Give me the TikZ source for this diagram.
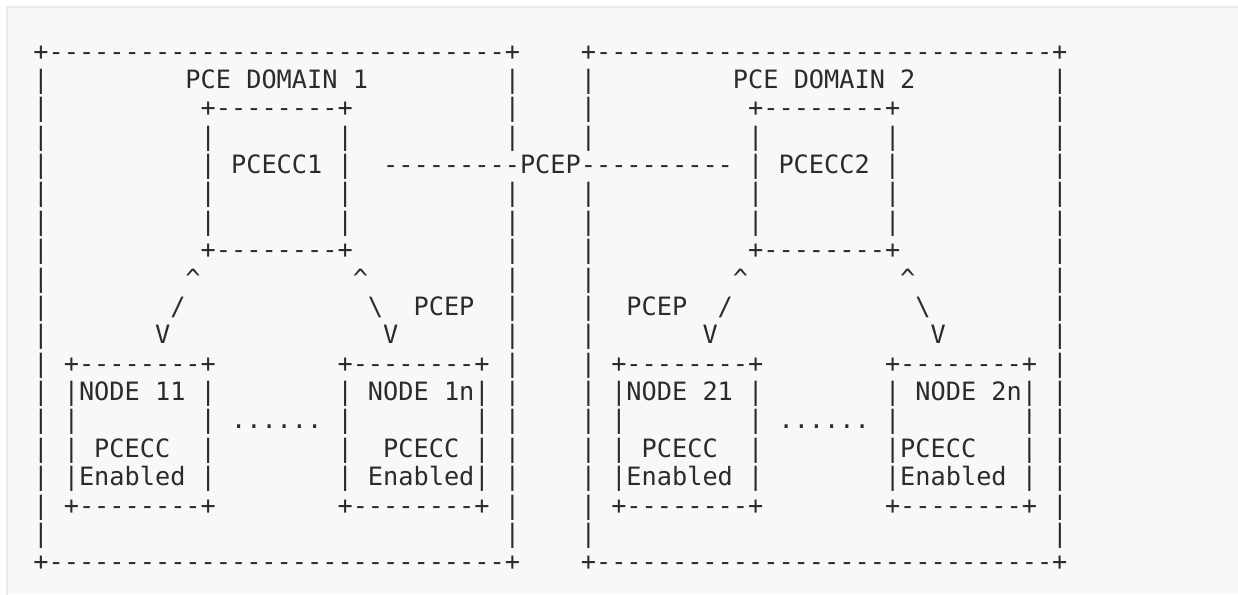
\documentclass[tikz,border=0pt]{standalone}
\usepackage{fontspec}
\setmonofont{DejaVu Sans Mono}
\definecolor{ink}{HTML}{2B2B2B}
\definecolor{panel}{HTML}{F8F8F8}
\definecolor{panelline}{HTML}{EAEAEA}
\newcommand\gp[1]{\hskip #1\fontdimen2\font\relax}
\newcommand\bs{\textbackslash}
\newcommand\ct{\textasciicircum}
\tikzset{
  asciirow/.style={anchor=base west, inner sep=0pt, outer sep=0pt, text=ink,
    font=\ttfamily\fontsize{25.26pt}{28.37pt}\selectfont},
}
\begin{document}
\begin{tikzpicture}[x=1pt,y=1pt]
\useasboundingbox (0,0) rectangle (1238,594);
\fill[white] (0,0) rectangle (1238,594);
\fill[panel] (7,0) rectangle (1238,587);
\draw[panelline, line width=1.5pt] (7,-2) -- (7,587) -- (1240,587);
\node[asciirow] (r0) at (33.4,533.9-28.37*0) {+------------------------------+\gp{4}+------------------------------+};
\node[asciirow] (r1) at (33.4,533.9-28.37*1) {|\gp{9}PCE DOMAIN 1\gp{9}|\gp{4}|\gp{9}PCE DOMAIN 2\gp{9}|};
\node[asciirow] (r2) at (33.4,533.9-28.37*2) {|\gp{10}+--------+\gp{10}|\gp{4}|\gp{10}+--------+\gp{10}|};
\node[asciirow] (r3) at (33.4,533.9-28.37*3) {|\gp{10}|\gp{8}|\gp{10}|\gp{4}|\gp{10}|\gp{8}|\gp{10}|};
\node[asciirow] (r4) at (33.4,533.9-28.37*4) {|\gp{10}|\gp{1}PCECC1\gp{1}|\gp{2}---------PCEP----------\gp{1}|\gp{1}PCECC2\gp{1}|\gp{10}|};
\node[asciirow] (r5) at (33.4,533.9-28.37*5) {|\gp{10}|\gp{8}|\gp{10}|\gp{4}|\gp{10}|\gp{8}|\gp{10}|};
\node[asciirow] (r6) at (33.4,533.9-28.37*6) {|\gp{10}|\gp{8}|\gp{10}|\gp{4}|\gp{10}|\gp{8}|\gp{10}|};
\node[asciirow] (r7) at (33.4,533.9-28.37*7) {|\gp{10}+--------+\gp{10}|\gp{4}|\gp{10}+--------+\gp{10}|};
\node[asciirow] (r8) at (33.4,533.9-28.37*8) {|\gp{9}\ct\gp{10}\ct\gp{9}|\gp{4}|\gp{9}\ct\gp{10}\ct\gp{9}|};
\node[asciirow] (r9) at (33.4,533.9-28.37*9) {|\gp{8}/\gp{12}\bs\gp{2}PCEP\gp{2}|\gp{4}|\gp{2}PCEP\gp{2}/\gp{12}\bs\gp{8}|};
\node[asciirow] (r10) at (33.4,533.9-28.37*10) {|\gp{7}V\gp{14}V\gp{7}|\gp{4}|\gp{7}V\gp{14}V\gp{7}|};
\node[asciirow] (r11) at (33.4,533.9-28.37*11) {|\gp{1}+--------+\gp{8}+--------+\gp{1}|\gp{4}|\gp{1}+--------+\gp{8}+--------+\gp{1}|};
\node[asciirow] (r12) at (33.4,533.9-28.37*12) {|\gp{1}|NODE 11\gp{1}|\gp{8}|\gp{1}NODE 1n|\gp{1}|\gp{4}|\gp{1}|NODE 21\gp{1}|\gp{8}|\gp{1}NODE 2n|\gp{1}|};
\node[asciirow] (r13) at (33.4,533.9-28.37*13) {|\gp{1}|\gp{8}|\gp{1}......\gp{1}|\gp{8}|\gp{1}|\gp{4}|\gp{1}|\gp{8}|\gp{1}......\gp{1}|\gp{8}|\gp{1}|};
\node[asciirow] (r14) at (33.4,533.9-28.37*14) {|\gp{1}|\gp{1}PCECC\gp{2}|\gp{8}|\gp{2}PCECC\gp{1}|\gp{1}|\gp{4}|\gp{1}|\gp{1}PCECC\gp{2}|\gp{8}|PCECC\gp{3}|\gp{1}|};
\node[asciirow] (r15) at (33.4,533.9-28.37*15) {|\gp{1}|Enabled\gp{1}|\gp{8}|\gp{1}Enabled|\gp{1}|\gp{4}|\gp{1}|Enabled\gp{1}|\gp{8}|Enabled\gp{1}|\gp{1}|};
\node[asciirow] (r16) at (33.4,533.9-28.37*16) {|\gp{1}+--------+\gp{8}+--------+\gp{1}|\gp{4}|\gp{1}+--------+\gp{8}+--------+\gp{1}|};
\node[asciirow] (r17) at (33.4,533.9-28.37*17) {|\gp{30}|\gp{4}|\gp{30}|};
\node[asciirow] (r18) at (33.4,533.9-28.37*18) {+------------------------------+\gp{4}+------------------------------+};
\end{tikzpicture}
\end{document}
